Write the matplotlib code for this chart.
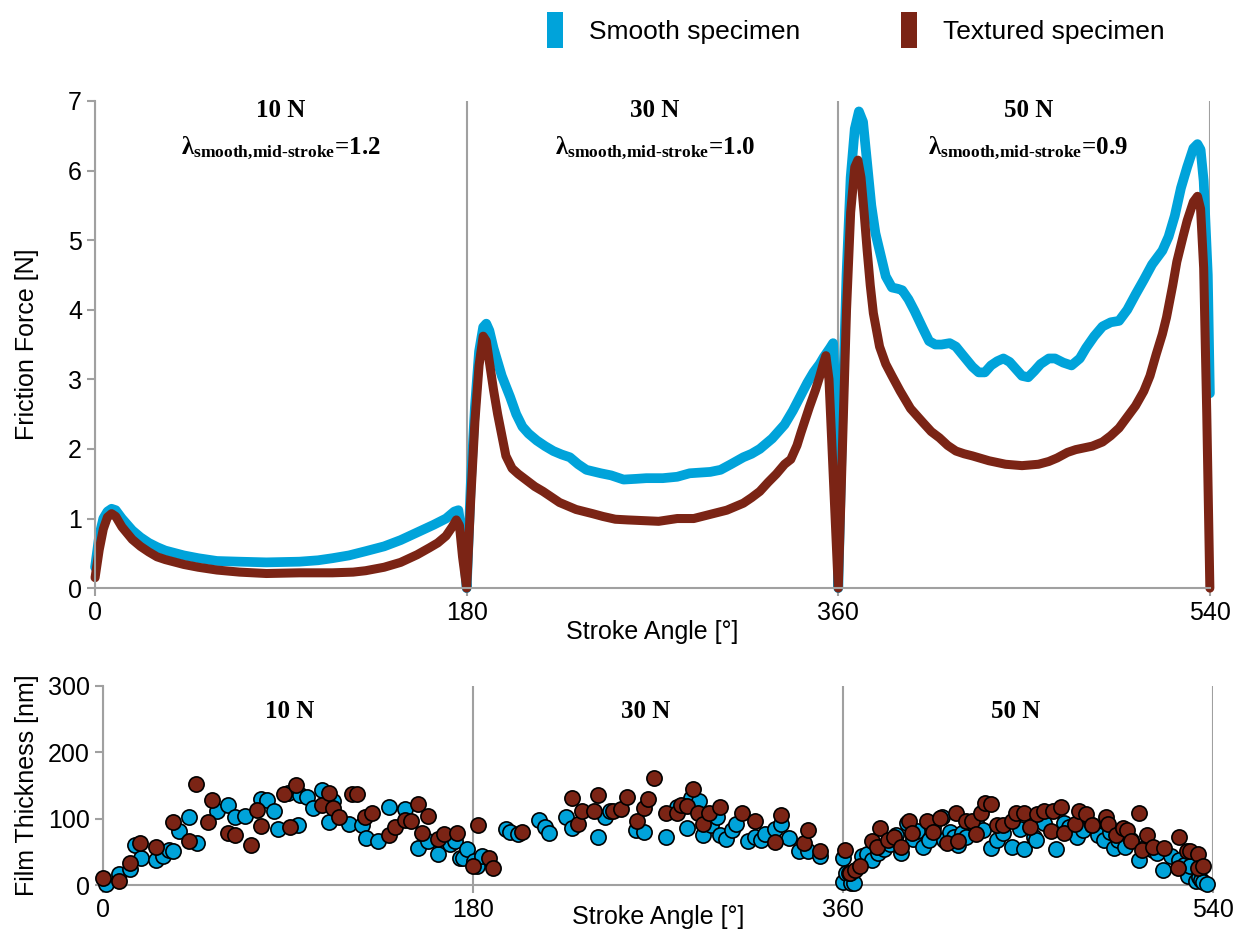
import matplotlib
matplotlib.use("Agg")
import matplotlib.pyplot as plt
from matplotlib.patches import Patch

plt.rcParams["font.family"] = ["Liberation Sans", "DejaVu Sans"]
plt.rcParams["mathtext.fontset"] = "custom"
plt.rcParams["mathtext.rm"] = "Liberation Serif:bold"
plt.rcParams["mathtext.it"] = "Liberation Serif:bold"
plt.rcParams["mathtext.bf"] = "Liberation Serif:bold"

BLUE = "#00A3DA"
BROWN = "#7B2415"
GRID = "#A0A0A0"

# friction force vs stroke angle
smooth_ang = [0, 2, 4, 6, 8, 10, 13, 18, 22, 26, 30, 34, 43, 50, 59, 70, 83, 99, 108, 115,
              123, 131, 140, 148, 156, 164, 170, 174, 176, 178, 180,
              182, 184, 186, 188, 189.5, 191, 193, 197, 201, 204, 207, 210, 214, 218, 222,
              226, 230, 234, 238, 245, 250, 256, 262, 267, 275, 282, 288, 293, 298, 303,
              308, 314, 318, 322, 328, 334, 338, 342, 345, 348, 351, 353, 356, 357.5, 359, 360,
              362, 364, 366, 368, 370, 372, 374, 376, 378, 380, 383, 386, 389, 391, 394,
              397, 401, 404, 407, 410, 414, 417, 420, 425, 428, 431, 434, 437, 440, 443,
              446, 449, 452, 455, 458, 462, 465, 469, 473, 477, 480, 484, 488, 492, 496,
              500, 504, 508, 512, 517, 520, 523, 526, 529, 532, 534, 535.5, 537, 539, 540]
smooth_force = [0.30, 0.75, 1.0, 1.10, 1.14, 1.12, 1.0, 0.83, 0.73, 0.65, 0.59, 0.54, 0.47,
                0.43, 0.39, 0.38, 0.37, 0.38, 0.40, 0.43, 0.47, 0.53, 0.60, 0.69, 0.80, 0.91,
                1.0, 1.1, 1.12, 0.7, 0.0,
                1.5, 2.6, 3.4, 3.75, 3.80, 3.7, 3.45, 3.05, 2.75, 2.5, 2.32, 2.22, 2.12, 2.04,
                1.97, 1.92, 1.88, 1.78, 1.70, 1.65, 1.62, 1.56, 1.57, 1.58, 1.58, 1.60, 1.65,
                1.66, 1.67, 1.70, 1.78, 1.88, 1.93, 2.0, 2.15, 2.35, 2.55, 2.78, 2.95, 3.1,
                3.22, 3.32, 3.45, 3.52, 2.5, 0.0,
                2.5, 4.5, 5.9, 6.6, 6.85, 6.7, 6.1, 5.5, 5.1, 4.85, 4.48, 4.32, 4.30, 4.28,
                4.15, 3.98, 3.73, 3.55, 3.50, 3.50, 3.52, 3.47, 3.36, 3.18, 3.10, 3.10, 3.20,
                3.26, 3.30, 3.25, 3.15, 3.05, 3.03, 3.12, 3.22, 3.30, 3.30, 3.24, 3.20, 3.30,
                3.45, 3.62, 3.76, 3.82, 3.84, 4.0, 4.22, 4.43, 4.65, 4.85, 5.05, 5.35, 5.75,
                6.05, 6.32, 6.38, 6.30, 5.85, 4.5, 2.8]

textured_ang = [0, 2, 4, 6, 8, 10, 13, 18, 22, 26, 30, 34, 43, 50, 59, 70, 83, 99, 115, 125,
                131, 140, 148, 156, 162, 166, 170, 173, 175, 176.5, 178, 180,
                182, 184, 186, 188, 189.5, 191, 193, 195, 197, 199, 202, 205, 209, 213, 217,
                221, 225, 229, 233, 241, 246, 252, 258, 265, 273, 282, 290, 298, 306, 314,
                318, 322, 326, 330, 334, 337, 340, 342, 346, 349, 351, 353, 354, 355.5, 357,
                358.5, 360,
                362, 364, 366, 368, 369.5, 371, 372.5, 374, 375.5, 377, 380, 383, 386, 390,
                395, 401, 405, 409, 413, 417, 421, 425, 433, 441, 449, 457, 462, 466, 471,
                475, 483, 488, 492, 496, 500, 504, 508, 511, 514, 517, 519, 522, 524, 527,
                529, 532, 534, 535.5, 537, 538.5, 540]
textured_force = [0.15, 0.55, 0.85, 1.02, 1.07, 1.03, 0.88, 0.70, 0.60, 0.52, 0.45, 0.41,
                  0.34, 0.30, 0.26, 0.23, 0.21, 0.22, 0.22, 0.23, 0.25, 0.30, 0.37, 0.48,
                  0.58, 0.65, 0.75, 0.88, 0.98, 0.90, 0.45, 0.0,
                  1.3, 2.4, 3.2, 3.62, 3.55, 3.25, 2.85, 2.50, 2.20, 1.90, 1.72, 1.64, 1.55,
                  1.46, 1.39, 1.31, 1.23, 1.18, 1.13, 1.07, 1.03, 0.99, 0.98, 0.97, 0.96, 1.0,
                  1.0, 1.06, 1.12, 1.22, 1.30, 1.39, 1.52, 1.64, 1.78, 1.85, 2.05, 2.24, 2.6,
                  2.85, 3.04, 3.25, 3.34, 3.0, 2.0, 1.0, 0.0,
                  2.0, 4.0, 5.4, 6.05, 6.15, 5.9, 5.4, 4.85, 4.35, 3.95, 3.47, 3.22, 3.05,
                  2.83, 2.58, 2.38, 2.25, 2.16, 2.05, 1.97, 1.93, 1.90, 1.83, 1.78, 1.76, 1.78,
                  1.82, 1.87, 1.95, 1.99, 2.04, 2.10, 2.19, 2.30, 2.46, 2.62, 2.83, 3.05, 3.36,
                  3.65, 3.89, 4.35, 4.69, 5.05, 5.28, 5.55, 5.63, 5.45, 4.6, 2.5, 0.0]

# film thickness vs stroke angle
smooth_film_ang = [1.6, 7.6, 13, 15.4, 18.4, 26, 29, 32, 34, 37, 42, 45.5, 55.6, 61, 64, 69, 77,
                   80, 83, 85, 90, 95, 96, 99, 102, 106.5, 110, 112, 119.5, 126, 128, 134, 139,
                   147, 153, 158, 163, 169, 171, 173.5, 175, 177, 180.5, 182, 184.6,
                   196, 198, 201.7, 212, 215, 217, 225, 228, 241, 244, 246.5, 259.5, 263, 274,
                   279, 284, 286, 290, 292, 296, 298.6, 300, 303, 306, 308, 314, 317, 320,
                   322, 327, 330, 333.6, 338.5, 343, 349,
                   360, 360, 361.6, 364, 365.5, 363, 369, 371.7, 374, 377, 380, 383, 386, 388,
                   391, 394, 396, 399, 402, 404, 408, 409, 412, 414, 416, 418, 420, 425, 428,
                   432, 435, 438, 442, 446, 448, 453, 454, 458, 463.5, 467.5, 470, 474, 477,
                   481, 484, 487, 490, 492, 494, 497, 500, 504, 508, 510.6, 513, 515.5, 519.5,
                   523.6, 526, 528, 529, 531.7, 533, 534, 535, 537]
smooth_film = [1, 17, 24, 60, 40, 37, 44, 53, 51, 81, 102, 63, 112, 120, 103, 104, 130, 128, 112,
               85, 138, 91, 135, 132, 116, 143, 95, 126, 92, 91, 71, 67, 118, 114, 56, 67, 47,
               62, 67, 41, 41, 54, 36, 28, 43,
               85, 80, 77, 98, 88, 78, 103, 86, 73, 103, 111, 83, 80, 73, 118, 86, 131, 126,
               76, 91, 103, 76, 70, 83, 92, 66, 73, 68, 77, 84, 92, 71, 51, 51, 43,
               41, 4.5, 18, 3.5, 3, 18, 43, 46, 38, 48, 55, 62, 75, 48, 93, 70, 81, 58, 68, 88,
               103, 68, 80, 73, 61, 78, 73, 90, 83, 56, 68, 78, 58, 85, 55, 73, 68, 93, 55, 94,
               88, 73, 83, 90, 76, 68, 80, 56, 68, 58, 68, 37, 60, 53, 48, 23, 43, 38, 30, 13,
               28, 6, 12, 8, 4, 1]

textured_film_ang = [0, 8, 13, 18, 26, 34, 42, 45, 51, 53, 60.7, 64, 72, 75, 77, 88, 91, 94,
                     106.5, 110, 112, 114.6, 121, 123.6, 127.6, 131, 139, 142, 147, 150, 153.3,
                     155, 158, 163, 166, 172, 180, 182.4, 187.8, 189.8,
                     204, 228, 231, 233, 239, 241, 248, 252, 255, 260, 263, 265, 268, 274, 279,
                     281, 284, 287, 289.6, 292, 295, 300, 311, 317, 327, 330, 341, 343, 349,
                     361, 363.6, 366, 368.4, 374, 376.6, 378, 382, 384.7, 388, 392, 393.6, 401,
                     404, 407, 410.7, 415, 416, 419.6, 423, 424.5, 427, 429, 432, 435, 438, 442,
                     444, 448, 451, 454.5, 458, 461, 462, 466, 467.5, 473, 475, 478, 481, 488,
                     489, 492.7, 496, 498, 500, 504, 505.7, 508, 511, 516, 523.6, 522.8, 527.6,
                     529, 532.5, 532.5, 535]
textured_film = [11, 6, 33, 63, 58, 95, 67, 152, 95, 128, 78, 76, 60, 113, 89, 137, 87, 151, 120,
                 138, 116, 103, 137, 137, 103, 109, 76, 87, 98, 97, 122, 79, 104, 69, 77, 78,
                 28, 90, 41, 25,
                 80, 131, 92, 111, 111, 136, 111, 114, 133, 96, 116, 130, 161, 108, 108, 121,
                 119, 144, 108, 92, 108, 118, 108, 97, 65, 106, 64, 83, 51,
                 53, 18, 23, 28, 66, 58, 86, 68, 73, 58, 96, 79, 96, 80, 101, 63, 108, 66, 96,
                 97, 77, 108, 123, 122, 91, 91, 96, 108, 108, 88, 107, 111, 81, 111, 118, 79,
                 92, 111, 107, 91, 103, 92, 76, 86, 83, 67, 109, 53, 75, 58, 56, 73, 26, 52,
                 51, 46, 26, 28]

loads = ["10 N", "30 N", "50 N"]
load_centers = [90, 271, 452]
lambdas = ["1.2", "1.0", "0.9"]
xticks = [0, 180, 360, 540]


def style_axes(ax):
    for side in ["top", "right"]:
        ax.spines[side].set_visible(False)
    for side in ["left", "bottom"]:
        ax.spines[side].set_color(GRID)
        ax.spines[side].set_linewidth(1.5)
    ax.tick_params(direction="out", length=6, width=1.5, color=GRID, labelsize=18)
    ax.set_xticks(xticks)
    ax.set_xlim(0, 540)
    ax.grid(axis="x", color=GRID, linewidth=1.5)
    ax.set_axisbelow(True)


fig = plt.figure(figsize=(12.46, 9.41), dpi=100)
ax1 = fig.add_axes([0.0763, 0.375, 0.8947, 0.5177])
ax2 = fig.add_axes([0.0827, 0.0595, 0.8908, 0.2115])

# top: friction force
ax1.plot(smooth_ang, smooth_force, color=BLUE, lw=7, solid_joinstyle="round",
         solid_capstyle="round", clip_on=False)
ax1.plot(textured_ang, textured_force, color=BROWN, lw=6.5, solid_joinstyle="round",
         solid_capstyle="round", clip_on=False)
ax1.set_ylim(0, 7)
ax1.set_yticks(range(8))
style_axes(ax1)
ax1.set_ylabel("Friction Force [N]", fontsize=18)
ax1.set_xlabel("Stroke Angle [°]", fontsize=18)
ax1.xaxis.set_label_coords(0.5, -0.065)
ax1.yaxis.set_label_coords(-0.05, 0.5)
for name, xc, lam in zip(loads, load_centers, lambdas):
    ax1.text(xc, 6.87, name, ha="center", va="center", fontsize=18,
             family="Liberation Serif", weight="bold")
    ax1.text(xc, 6.32, r"$\lambda_{\text{smooth,mid-stroke}}$=" + lam,
             ha="center", va="center", fontsize=18, family="Liberation Serif",
             weight="bold")

# bottom: film thickness
ax2.scatter(smooth_film_ang, smooth_film, s=120, color=BLUE, edgecolors="black",
            linewidths=1.2, zorder=3, clip_on=False)
ax2.scatter(textured_film_ang, textured_film, s=120, color=BROWN, edgecolors="black",
            linewidths=1.2, zorder=4, clip_on=False)
ax2.set_ylim(0, 300)
ax2.set_yticks([0, 100, 200, 300])
style_axes(ax2)
ax2.set_ylabel("Film Thickness [nm]", fontsize=18)
ax2.set_xlabel("Stroke Angle [°]", fontsize=18)
ax2.xaxis.set_label_coords(0.5, -0.1)
ax2.yaxis.set_label_coords(-0.058, 0.5)
for name, xc in zip(loads, [91, 264, 444]):
    ax2.text(xc, 262, name, ha="center", va="center", fontsize=18,
             family="Liberation Serif", weight="bold")

handles = [Patch(facecolor=BLUE, edgecolor="none", linewidth=0, label="Smooth specimen"),
           Patch(facecolor=BROWN, edgecolor="none", linewidth=0, label="Textured specimen")]
fig.legend(handles=handles, loc="center left", bbox_to_anchor=(0.42, 0.968), ncol=2,
           frameon=False, fontsize=19, handlelength=0.6, handleheight=1.7,
           handletextpad=1.0, columnspacing=3.8)

fig.savefig("out.png", dpi=100)
